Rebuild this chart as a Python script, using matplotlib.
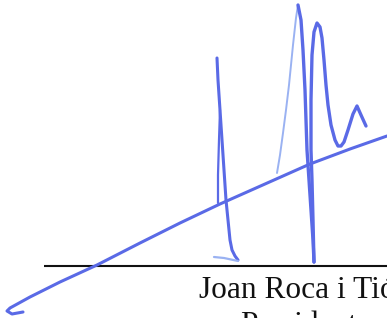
import matplotlib
matplotlib.use("Agg")
import matplotlib.pyplot as plt

# stroke points (pixel coords, y down)
diag_x = [23, 12, 7, 10, 30, 60, 97, 140, 180, 220, 265, 310, 350, 387]
diag_y = [312, 314, 311, 308, 297, 282, 265, 243, 223, 204, 184, 164, 149, 136]

stem1_x = [217, 218, 220, 222, 224, 226, 228, 230, 232, 235, 238]
stem1_y = [58, 80, 110, 140, 170, 200, 220, 240, 250, 256, 260]
stem1b_x = [220, 219, 218, 218]
stem1b_y = [110, 140, 175, 203]
tail_x = [214, 224, 238]
tail_y = [257, 258, 261]

rise_x = [277, 280, 283, 286, 289, 293, 296, 298]
rise_y = [173, 155, 133, 110, 85, 45, 18, 5]
fall_x = [298, 301, 303, 305, 307, 309, 311, 313, 314]
fall_y = [5, 20, 50, 90, 150, 180, 210, 240, 262]

loop_x = [314, 313, 312, 311, 311, 312, 314, 317, 320, 322, 324, 326, 328, 331, 335, 338, 341, 344, 348, 353, 357, 361, 366]
loop_y = [262, 220, 180, 150, 100, 55, 32, 23, 27, 38, 60, 85, 105, 125, 140, 146, 146, 142, 130, 114, 106, 115, 126]

name_line1 = "Joan Roca i Tió"
name_line2 = "President"

blue = "#5a6ae6"
light = "#9ab2f2"

fig = plt.figure(figsize=(3.87, 3.18), dpi=100)
ax = fig.add_axes([0, 0, 1, 1])
ax.set_xlim(0, 387)
ax.set_ylim(318, 0)
ax.axis("off")

# signature line and name
ax.plot([44, 387], [265.5, 265.5], color="#111111", lw=1.5, solid_capstyle="butt")
ax.text(199, 298, name_line1, fontsize=22.6, family="Liberation Serif", color="#111111")
ax.text(240, 333, name_line2, fontsize=22.6, family="Liberation Serif", color="#111111")

kw = dict(solid_capstyle="round", solid_joinstyle="round")
ax.plot(diag_x, diag_y, color=blue, lw=2.2, **kw)
ax.plot(stem1_x, stem1_y, color=blue, lw=2.2, **kw)
ax.plot(stem1b_x, stem1b_y, color=blue, lw=1.6, **kw)
ax.plot(tail_x, tail_y, color=light, lw=1.6, **kw)
ax.plot(rise_x, rise_y, color=light, lw=1.4, **kw)
ax.plot(fall_x, fall_y, color=blue, lw=2.4, **kw)
ax.plot(loop_x, loop_y, color=blue, lw=2.4, **kw)

fig.savefig("out.png", dpi=100)
